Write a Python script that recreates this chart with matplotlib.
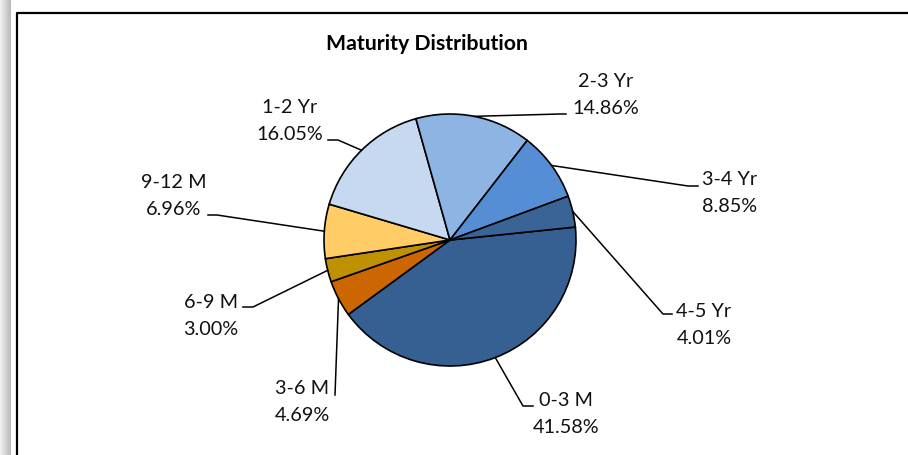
import numpy as np
import matplotlib
matplotlib.use("Agg")
import matplotlib.pyplot as plt

plt.rcParams["font.family"] = ["Lato", "DejaVu Sans"]

# slice order as drawn, clockwise from just above 3 o'clock
buckets = ["0-3 M", "3-6 M", "6-9 M", "9-12 M", "1-2 Yr", "2-3 Yr", "3-4 Yr", "4-5 Yr"]
shares = [41.58, 4.69, 3.00, 6.96, 16.05, 14.86, 8.85, 4.01]
colors = ["#366092", "#CC6600", "#BF9000", "#FFCC66",
          "#C6D9F1", "#8DB4E2", "#558ED5", "#3A6496"]

W, H = 908, 455

# label layout in pixel coords (y down): elbow, end of leader, text block centre
LAYOUT = {
    "0-3 M":  ((523, 406), (533, 406), (566, 414)),
    "3-6 M":  ((335, 395), (335, 395), (302, 402)),
    "6-9 M":  ((253, 307), (243, 307), (211, 316)),
    "9-12 M": ((217, 215), (208, 215), (174, 196)),
    "1-2 Yr": ((338, 140), (328, 140), (290, 121)),
    "2-3 Yr": ((560, 114), (566, 114), (606, 95)),
    "3-4 Yr": ((688, 186), (698, 186), (730, 193)),
    "4-5 Yr": ((663, 314), (672, 314), (704, 325)),
}


def px(p):
    return p[0], H - p[1]


fig = plt.figure(figsize=(W / 100, H / 100), dpi=100)
ax = fig.add_axes([0, 0, 1, 1])

# left drop shadow and chart frame
grad = np.linspace(0.95, 0.72, 50).reshape(1, -1)
ax.imshow(grad, cmap="gray", vmin=0, vmax=1, extent=(0, 11, 0, H), aspect="auto", zorder=0)
ax.plot([17, 17, W + 5], [-5, H - 13, H - 13], color="black", lw=1.6, zorder=1)

cx, cy, r = 450, H - 240, 126
wedges, _ = ax.pie(shares, colors=colors, startangle=5.9, counterclock=False,
                   center=(cx, cy), radius=r, frame=True,
                   wedgeprops=dict(edgecolor="black", linewidth=1.2))
ax.set_xlim(0, W)
ax.set_ylim(0, H)
ax.set_aspect("equal")
ax.axis("off")

for w, name, val in zip(wedges, buckets, shares):
    mid = np.deg2rad((w.theta1 + w.theta2) / 2)
    x0, y0 = cx + r * np.cos(mid), cy + r * np.sin(mid)
    elbow, end, tc = LAYOUT[name]
    ex, ey = px(elbow)
    nx, ny = px(end)
    ax.plot([x0, ex, nx], [y0, ey, ny], color="black", lw=1.1, zorder=3)
    tx, ty = px(tc)
    ax.text(tx, ty, f"{name}\n{val:.2f}%", ha="center", va="center",
            multialignment="center", fontsize=14.3, linespacing=1.7, color="#111111")

ax.text(427, H - 44, "Maturity Distribution", ha="center", va="center",
        fontsize=15.3, fontweight="bold", color="black")

fig.savefig("out.png", dpi=100)
